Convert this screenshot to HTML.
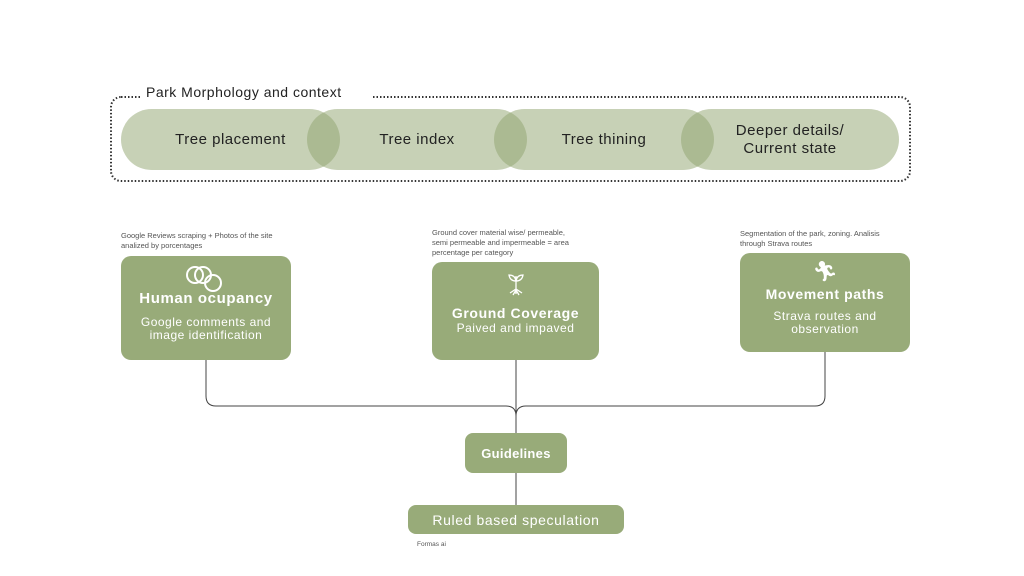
<!DOCTYPE html>
<html><head><style>
body{margin:0;width:1024px;height:576px;background:#fff;position:relative;overflow:hidden;font-family:"Liberation Sans",sans-serif}
.a{position:absolute}
.card{position:absolute;background:#98ab79;border-radius:10px;color:#fff;text-align:center}
.small{position:absolute;font-size:7.5px;color:#555;line-height:10px}
</style></head><body>
<svg class="a" style="left:0;top:0" width="1024" height="576">
<rect x="111" y="97" width="799" height="84" rx="10" fill="none" stroke="#333" stroke-width="2" stroke-dasharray="1.5 2"/>
<rect x="140" y="88" width="232" height="18" fill="#fff"/>
<g fill="#8fa36d" fill-opacity="0.5">
<rect x="121" y="109" width="219" height="61" rx="30.5"/>
<rect x="307" y="109" width="220" height="61" rx="30.5"/>
<rect x="494" y="109" width="220" height="61" rx="30.5"/>
<rect x="681" y="109" width="218" height="61" rx="30.5"/>
</g>
<g fill="none" stroke="#444" stroke-width="1">
<path d="M206 360 V396 Q206 406 216 406 H506 Q516 406 516 416"/>
<path d="M825 352 V396 Q825 406 815 406 H526 Q516 406 516 416"/>
<path d="M516 360 V433"/>
<path d="M516 473 V505"/>
</g>
</svg>
<div class="a" style="left:146px;top:84px;font-size:14px;color:#222;letter-spacing:0.5px">Park Morphology and context</div>
<div class="a" style="left:121px;top:131px;width:219px;text-align:center;font-size:15px;color:#222;letter-spacing:0.5px">Tree placement</div>
<div class="a" style="left:307px;top:131px;width:220px;text-align:center;font-size:15px;color:#222;letter-spacing:0.5px">Tree index</div>
<div class="a" style="left:494px;top:131px;width:220px;text-align:center;font-size:15px;color:#222;letter-spacing:0.5px">Tree thining</div>
<div class="a" style="left:681px;top:122px;width:218px;text-align:center;font-size:15px;color:#222;line-height:18px;letter-spacing:0.5px">Deeper details/<br>Current state</div>

<div class="small" style="left:121px;top:231px">Google Reviews scraping + Photos of the site<br>analized by porcentages</div>
<div class="small" style="left:432px;top:228px">Ground cover material wise/ permeable,<br>semi permeable and impermeable = area<br>percentage per category</div>
<div class="small" style="left:740px;top:229px">Segmentation of the park, zoning. Analisis<br>through Strava routes</div>

<div class="card" style="left:121px;top:256px;width:170px;height:104px">
<svg class="a" style="left:64px;top:8px" width="42" height="30"><g fill="none" stroke="#fff" stroke-width="2"><circle cx="10" cy="11" r="8"/><circle cx="18" cy="11" r="8"/><circle cx="28" cy="19" r="8"/></g></svg>
<div class="a" style="left:0;top:34px;width:170px;font-size:15px;font-weight:bold;letter-spacing:0.6px">Human ocupancy</div>
<div class="a" style="left:0;top:60px;width:170px;font-size:12px;line-height:13px;letter-spacing:0.5px">Google comments and<br>image identification</div>
</div>
<div class="card" style="left:432px;top:262px;width:167px;height:98px">
<svg class="a" style="left:74px;top:10px" width="20" height="24"><g fill="none" stroke="#fff" stroke-width="1.3"><path d="M10 4V22M10 9Q4 9 3 3Q9 3 10 9M10 9Q16 9 17 3Q11 3 10 9M10 17L4 21M10 17L16 21M10 18L7 23M10 18L13 23"/></g></svg>
<div class="a" style="left:0;top:43px;width:167px;font-size:14px;font-weight:bold;letter-spacing:0.6px">Ground Coverage</div>
<div class="a" style="left:0;top:59px;width:167px;font-size:12px;letter-spacing:0.5px">Paived and impaved</div>
</div>
<div class="card" style="left:740px;top:253px;width:170px;height:99px">
<div class="a" style="left:0;top:6px;width:170px;font-size:20px">🏃︎</div>
<div class="a" style="left:0;top:33px;width:170px;font-size:14px;font-weight:bold;letter-spacing:0.6px">Movement paths</div>
<div class="a" style="left:0;top:57px;width:170px;font-size:12px;line-height:13px;letter-spacing:0.5px">Strava routes and<br>observation</div>
</div>
<div class="card" style="left:465px;top:433px;width:102px;height:40px;border-radius:8px">
<div class="a" style="left:0;top:13px;width:102px;font-size:13px;font-weight:bold;letter-spacing:0.3px">Guidelines</div>
</div>
<div class="card" style="left:408px;top:505px;width:216px;height:29px;border-radius:8px">
<div class="a" style="left:0;top:7px;width:216px;font-size:14px;letter-spacing:0.6px">Ruled based speculation</div>
</div>
<div class="small" style="left:417px;top:540px;font-size:6.5px">Formas ai</div>
</body></html>
